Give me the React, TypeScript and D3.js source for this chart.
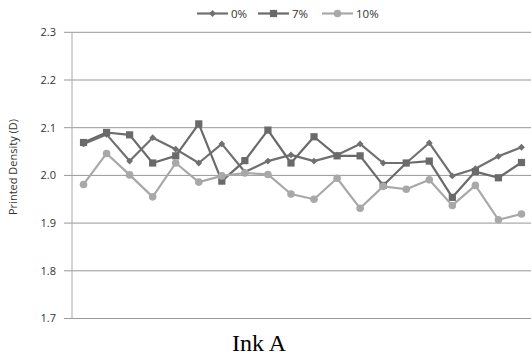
import React from "react";
import * as d3 from "d3";

const categories = d3.range(1, 21).map(String);
const series0 = [2.066, 2.086, 2.03, 2.079, 2.055, 2.026, 2.066, 2.007, 2.03, 2.043, 2.03, 2.043, 2.066, 2.026, 2.026, 2.068, 1.999, 2.014, 2.04, 2.059];
const series7 = [2.069, 2.09, 2.085, 2.026, 2.041, 2.108, 1.988, 2.031, 2.095, 2.026, 2.081, 2.041, 2.041, 1.979, 2.026, 2.03, 1.954, 2.008, 1.995, 2.027];
const series10 = [1.981, 2.046, 2.001, 1.955, 2.026, 1.986, 1.999, 2.005, 2.002, 1.961, 1.95, 1.994, 1.931, 1.977, 1.971, 1.991, 1.937, 1.979, 1.907, 1.919];
const yTicks = [1.7, 1.8, 1.9, 2.0, 2.1, 2.2, 2.3];
const legendLabels = ["0%", "7%", "10%"];

const W = 531, H = 357;
const font = "'Open Sans', 'Noto Sans', sans-serif";

export default function App() {
  const x = d3.scaleBand<string>().domain(categories).range([72, 533]);
  const y = d3.scaleLinear().domain([1.7, 2.3]).range([318.5, 32.3]);
  const cx = (i: number) => (x(categories[i]) as number) + x.bandwidth() / 2;
  const line = d3.line<number>().x((_, i) => cx(i)).y((v) => y(v));
  const colors = ["#707070", "#6a6a6a", "#a8a8a8"];
  const data = [series0, series7, series10];

  const marker = (k: number, px: number, py: number, key: string) => {
    if (k === 0) {
      const s = 3.4;
      return <path key={key} d={`M${px},${py - s}L${px + s},${py}L${px},${py + s}L${px - s},${py}Z`} fill={colors[0]} />;
    }
    if (k === 1) return <rect key={key} x={px - 3.6} y={py - 3.6} width={7.2} height={7.2} fill={colors[1]} />;
    return <circle key={key} cx={px} cy={py} r={3.8} fill={colors[2]} />;
  };

  const legendX = [197, 258, 322];
  return (
    <svg width={W} height={H} style={{ position: "absolute", left: 0, top: 0, background: "#fff" }}>
      {yTicks.map((t) => (
        <g key={t}>
          <line x1={72} x2={531} y1={y(t)} y2={y(t)} stroke="#989898" strokeWidth={1} />
          <line x1={64} x2={72} y1={y(t)} y2={y(t)} stroke="#989898" strokeWidth={1} />
          <text x={56} y={y(t)} dy="0.35em" textAnchor="end" fontFamily={font} fontSize={11} fill="#333">
            {t.toFixed(1)}
          </text>
        </g>
      ))}
      <line x1={72} x2={72} y1={y(2.3)} y2={y(1.7)} stroke="#a8a8a8" strokeWidth={1} />
      {data.map((s, k) => (
        <g key={k}>
          <path d={line(s) as string} fill="none" stroke={colors[k]} strokeWidth={2.2} strokeLinejoin="round" />
          {s.map((v, i) => marker(k, cx(i), y(v), `${k}-${i}`))}
        </g>
      ))}
      {legendLabels.map((l, k) => (
        <g key={l}>
          <line x1={legendX[k]} x2={legendX[k] + 31} y1={13.5} y2={13.5} stroke={colors[k]} strokeWidth={2.2} />
          {marker(k, legendX[k] + 15.5, 13.5, `lg${k}`)}
          <text x={legendX[k] + 34} y={13.5} dy="0.35em" fontFamily={font} fontSize={11.5} fill="#333">{l}</text>
        </g>
      ))}
      <text transform={`translate(13,167) rotate(-90)`} textAnchor="middle" dy="0.35em" fontFamily={font} fontSize={11} fill="#333">
        Printed Density (D)
      </text>
      <text x={259} y={350.5} textAnchor="middle" fontFamily="'Liberation Serif', 'Times New Roman', serif" fontSize={24} fill="#000">
        Ink A
      </text>
    </svg>
  );
}
